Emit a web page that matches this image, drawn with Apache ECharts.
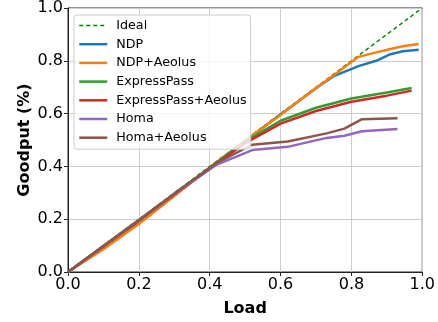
<!DOCTYPE html>
<html>
<head>
<meta charset="utf-8">
<script src="https://cdn.jsdelivr.net/npm/echarts@6/dist/echarts.min.js"></script>
<style>
  html, body { margin: 0; padding: 0; background: #fff; }
  #root { width: 438px; height: 322px; }
</style>
</head>
<body>
<div id="root"></div>
<script>
var ticks = [0, 0.2, 0.4, 0.6, 0.8, 1.0];

var idealLoad = [0, 1];
var idealGoodput = [0, 1];

var ndpLoad = [0, 0.1, 0.2, 0.3, 0.4, 0.5, 0.6, 0.7, 0.75, 0.82, 0.87, 0.91, 0.945, 0.99];
var ndpGoodput = [0, 0.092, 0.188, 0.29, 0.395, 0.497, 0.597, 0.696, 0.742, 0.78, 0.8, 0.825, 0.836, 0.842];
var ndpAeolusGoodput = [0, 0.086, 0.182, 0.288, 0.395, 0.498, 0.595, 0.697, 0.745, 0.815, 0.832, 0.845, 0.855, 0.864];

var epLoad = [0, 0.1, 0.2, 0.3, 0.4, 0.5, 0.6, 0.7, 0.8, 0.9, 0.97];
var epGoodput = [0, 0.098, 0.197, 0.296, 0.395, 0.495, 0.573, 0.622, 0.657, 0.68, 0.697];
var epAeolusGoodput = [0, 0.097, 0.195, 0.294, 0.393, 0.488, 0.562, 0.61, 0.645, 0.668, 0.687];

var homaLoad = [0, 0.1, 0.2, 0.3, 0.42, 0.52, 0.62, 0.73, 0.78, 0.83, 0.93];
var homaGoodput = [0, 0.098, 0.196, 0.295, 0.407, 0.462, 0.474, 0.508, 0.516, 0.533, 0.542];
var homaAeolusGoodput = [0, 0.098, 0.196, 0.296, 0.413, 0.482, 0.494, 0.525, 0.543, 0.579, 0.582];

function pairs(xs, ys) {
  return xs.map(function (x, i) { return [x, ys[i]]; });
}

function line(name, xs, ys, color, extra) {
  var s = {
    name: name,
    type: 'line',
    data: pairs(xs, ys),
    symbol: 'none',
    color: color,
    lineStyle: { color: color, width: 2.5 },
    animation: false
  };
  if (extra) Object.assign(s.lineStyle, extra);
  return s;
}

var font = 'DejaVu Sans';
var chart = echarts.init(document.getElementById('root'));
chart.setOption({
  animation: false,
  textStyle: { fontFamily: font },
  grid: {
    left: 68, right: 15, top: 8, bottom: 44,
    show: true, borderColor: '#222', borderWidth: 1, backgroundColor: 'transparent'
  },
  xAxis: {
    type: 'value', min: 0, max: 1, interval: 0.2,
    name: 'Load', nameLocation: 'middle', nameGap: 29, nameMoveOverlap: false,
    nameTextStyle: { fontFamily: font, fontSize: 16, fontWeight: 'bold', color: '#000' },
    axisLine: { show: true, lineStyle: { color: '#222', width: 1 } },
    axisTick: { show: true, length: 4, lineStyle: { color: '#222' } },
    axisLabel: { fontFamily: font, fontSize: 16, color: '#000', margin: 5,
      formatter: function (v) { return v.toFixed(1); } },
    splitLine: { show: true, lineStyle: { color: '#cccccc', width: 1 } }
  },
  yAxis: {
    type: 'value', min: 0, max: 1, interval: 0.2,
    name: 'Goodput (%)', nameLocation: 'middle', nameGap: 35, nameMoveOverlap: false,
    nameTextStyle: { fontFamily: font, fontSize: 16, fontWeight: 'bold', color: '#000' },
    axisLine: { show: true, lineStyle: { color: '#222', width: 1 } },
    axisTick: { show: true, length: 4, lineStyle: { color: '#222' } },
    axisLabel: { fontFamily: font, fontSize: 16, color: '#000', margin: 5,
      formatter: function (v) { return v.toFixed(1); } },
    splitLine: { show: true, lineStyle: { color: '#cccccc', width: 1 } }
  },
  legend: {
    orient: 'vertical', left: 74, top: 15,
    padding: [4, 4, 5, 4],
    itemWidth: 28, itemHeight: 14, itemGap: 5.7,
    itemStyle: { opacity: 0 },
    lineStyle: { width: 2.5 },
    backgroundColor: 'rgba(255,255,255,0.8)',
    borderColor: '#cccccc', borderWidth: 1, borderRadius: 3,
    textStyle: { fontFamily: font, fontSize: 12.7, color: '#000', padding: [0, 0, 0, 4] },
    data: [
      { name: 'Ideal', lineStyle: { width: 1.4 } },
      'NDP', 'NDP+Aeolus', 'ExpressPass', 'ExpressPass+Aeolus', 'Homa', 'Homa+Aeolus'
    ]
  },
  series: [
    line('Ideal', idealLoad, idealGoodput, '#008000', { width: 1.4, type: [4, 3] }),
    line('NDP', ndpLoad, ndpGoodput, '#1f77b4'),
    line('NDP+Aeolus', ndpLoad, ndpAeolusGoodput, '#ff7f0e'),
    line('ExpressPass', epLoad, epGoodput, '#2ca02c'),
    line('ExpressPass+Aeolus', epLoad, epAeolusGoodput, '#d62728'),
    line('Homa', homaLoad, homaGoodput, '#9467bd'),
    line('Homa+Aeolus', homaLoad, homaAeolusGoodput, '#8c564b')
  ]
});
</script>
</body>
</html>
